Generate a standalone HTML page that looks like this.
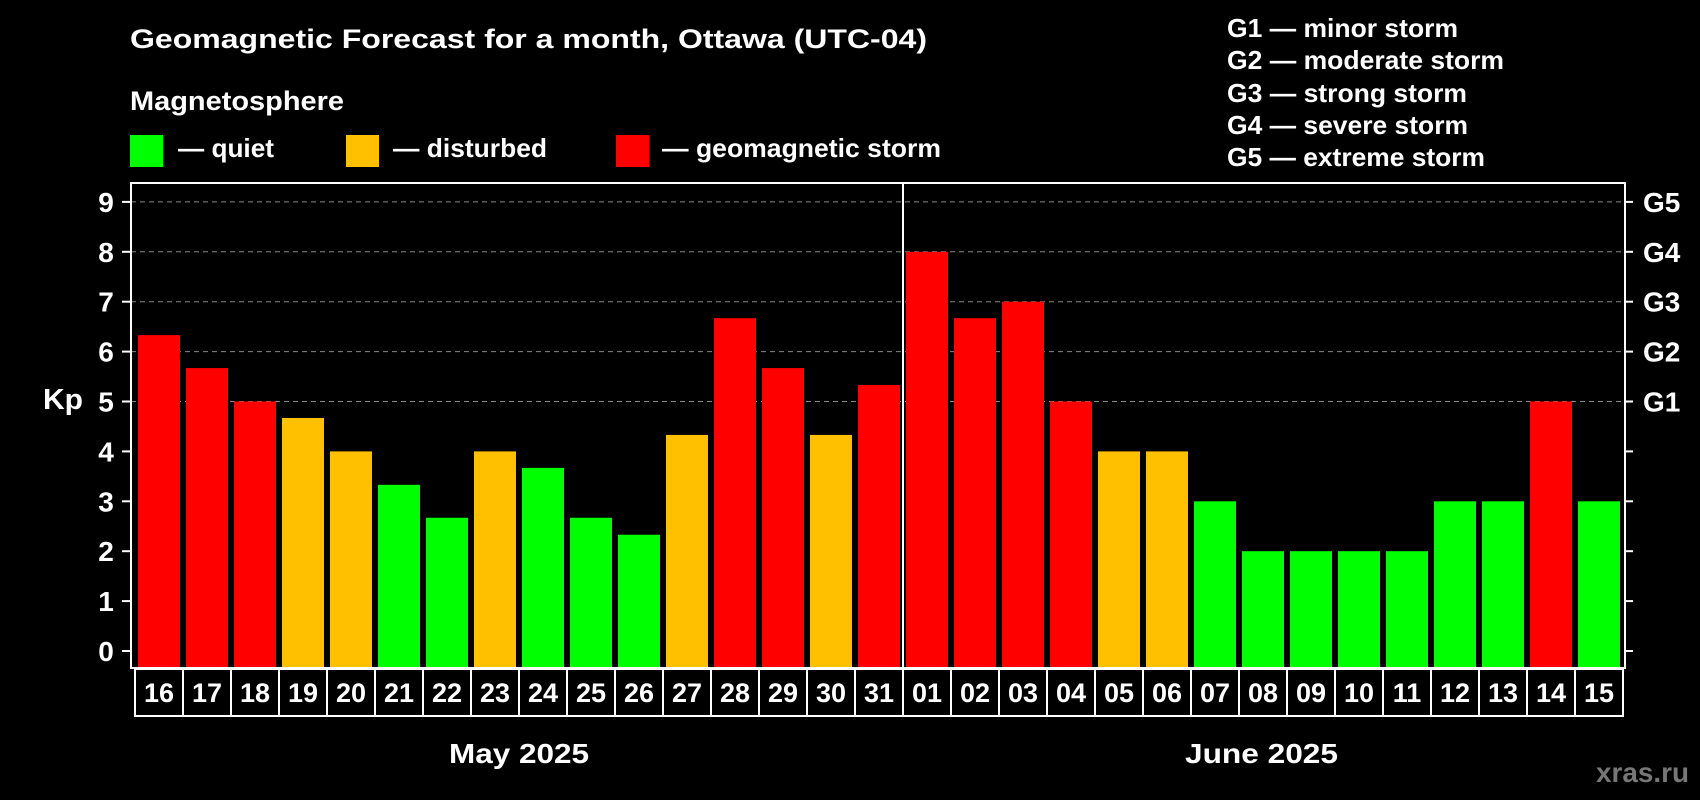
<!DOCTYPE html>
<html><head><meta charset="utf-8"><style>
html,body{margin:0;padding:0;background:#000;}
svg{display:block;font-family:"Liberation Sans",sans-serif;font-weight:bold;}
</style></head><body>
<svg id="chart" width="1700" height="800" viewBox="0 0 1700 800">
<text x="130" y="48" fill="#fff" font-size="27" textLength="797" lengthAdjust="spacingAndGlyphs">Geomagnetic Forecast for a month, Ottawa (UTC-04)</text>
<text x="130" y="110" fill="#fff" font-size="27" textLength="214" lengthAdjust="spacingAndGlyphs">Magnetosphere</text>
<g><rect x="130" y="135" width="33" height="32" fill="#00ff00"/><text x="178" y="157" fill="#fff" font-size="26" textLength="96" lengthAdjust="spacingAndGlyphs">— quiet</text></g>
<g><rect x="346" y="135" width="33" height="32" fill="#ffc000"/><text x="393" y="157" fill="#fff" font-size="26" textLength="154" lengthAdjust="spacingAndGlyphs">— disturbed</text></g>
<g><rect x="616" y="135" width="33" height="32" fill="#ff0000"/><text x="662" y="157" fill="#fff" font-size="26" textLength="279" lengthAdjust="spacingAndGlyphs">— geomagnetic storm</text></g>
<g fill="#fff" font-size="26">
<text x="1227" y="37" textLength="231" lengthAdjust="spacingAndGlyphs">G1 — minor storm</text>
<text x="1227" y="69" textLength="277" lengthAdjust="spacingAndGlyphs">G2 — moderate storm</text>
<text x="1227" y="102" textLength="240" lengthAdjust="spacingAndGlyphs">G3 — strong storm</text>
<text x="1227" y="134" textLength="241" lengthAdjust="spacingAndGlyphs">G4 — severe storm</text>
<text x="1227" y="166" textLength="258" lengthAdjust="spacingAndGlyphs">G5 — extreme storm</text>
</g>
<g id="grid"></g>
<g id="bars"></g>
<rect x="131" y="183" width="1494" height="485" fill="none" stroke="#fff" stroke-width="2"/>
<line x1="903" y1="183" x2="903" y2="668" stroke="#fff" stroke-width="2"/>
<g id="axes"></g>
<g id="days"></g>
<text x="43" y="409" fill="#fff" font-size="29" textLength="40" lengthAdjust="spacingAndGlyphs">Kp</text>
<text x="449" y="763" fill="#fff" font-size="28" textLength="140" lengthAdjust="spacingAndGlyphs">May 2025</text>
<text x="1185" y="763" fill="#fff" font-size="28" textLength="153" lengthAdjust="spacingAndGlyphs">June 2025</text>
<text x="1596" y="782" fill="#777" font-size="28" textLength="93" lengthAdjust="spacingAndGlyphs">xras.ru</text>
</svg>
<script>
const days = ["16","17","18","19","20","21","22","23","24","25","26","27","28","29","30","31","01","02","03","04","05","06","07","08","09","10","11","12","13","14","15"];
const kpValues = [6.33,5.67,5,4.67,4,3.33,2.67,4,3.67,2.67,2.33,4.33,6.67,5.67,4.33,5.33,8,6.67,7,5,4,4,3,2,2,2,2,3,3,5,3];
const yTicks = [0,1,2,3,4,5,6,7,8,9];
const gLabels = ["","","","","","G1","G2","G3","G4","G5"];
const NS="http://www.w3.org/2000/svg";
const y0=651, unit=49.9, plotL=131, plotR=1625, plotB=668;
const step=48, x0=135;
function yS(v){return y0-v*unit;}
function xS(i){return x0+i*step;}
function mk(t,a,p){const e=document.createElementNS(NS,t);for(const k in a)e.setAttribute(k,a[k]);p.appendChild(e);return e;}
const grid=document.getElementById('grid'),bars=document.getElementById('bars'),axes=document.getElementById('axes'),dg=document.getElementById('days');
yTicks.forEach((v,i)=>{
  const y=yS(v);
  if(v>=5){const l=mk('line',{x1:plotL,x2:plotR,y1:y,y2:y,stroke:'#888','stroke-dasharray':'5,4','stroke-width':1},grid);
  
  }
  const t1=mk('line',{x1:122,x2:plotL,y1:y,y2:y,stroke:'#fff','stroke-width':2},axes);
  
  
  const t2=mk('line',{x1:plotR,x2:1633,y1:y,y2:y,stroke:'#fff','stroke-width':2},axes);
  
  
  const tx=mk('text',{x:106,y:y+10,fill:'#fff','font-size':28,'text-anchor':'middle'},axes);tx.textContent=v;
  
  
  if(gLabels[i]){const g=mk('text',{x:1643,y:y+10,fill:'#fff','font-size':28},axes);g.textContent=gLabels[i];
  
  }
});
kpValues.forEach((v,i)=>{
  const c=v>=5?'#ff0000':(v>=4?'#ffc000':'#00ff00');
  const y=yS(v);
  const r=mk('rect',{x:xS(i)+3,y:y,width:42,height:plotB-y,fill:c},bars);
  
  
  const b=mk('rect',{x:xS(i),y:669,width:step,height:47,fill:'none',stroke:'#fff','stroke-width':2},dg);
  
  
  const t=mk('text',{x:xS(i)+step/2,y:702,fill:'#fff','font-size':27,'text-anchor':'middle'},dg);t.textContent=days[i];
  
  
});
</script>
</body></html>
